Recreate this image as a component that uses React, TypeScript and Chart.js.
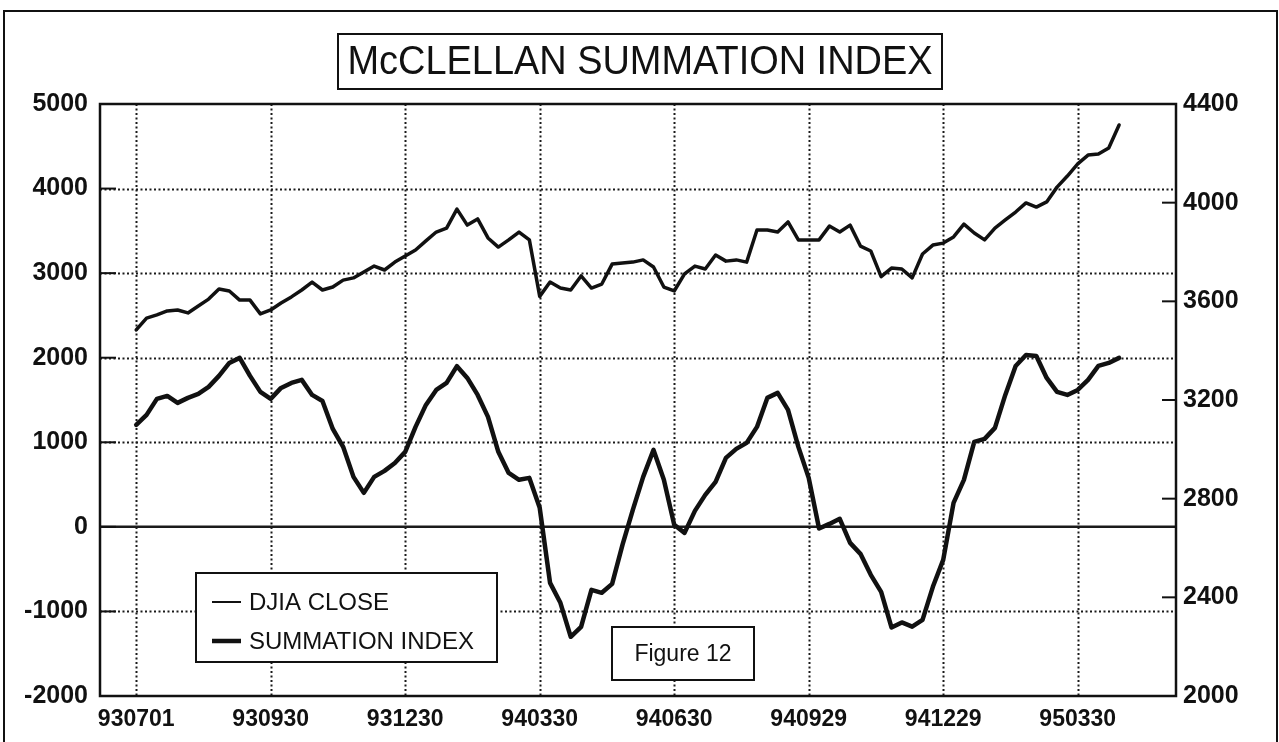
import React, { useEffect, useRef } from "react";
import { Chart, registerables } from "chart.js";

Chart.register(...registerables);

const TITLE = "McCLELLAN SUMMATION INDEX";
const FIGURE_NOTE = "Figure 12";

const quarterLabels = ["930701", "930930", "931230", "940330", "940630", "940929", "941229", "950330"];
const WEEKS_PER_QUARTER = 13;

const leftTicks = [-2000, -1000, 0, 1000, 2000, 3000, 4000, 5000];
const rightTicks = [2000, 2400, 2800, 3200, 3600, 4000, 4400];

// weekly readings, week 0 = 930701
const djiaClose = [
  3484, 3532, 3545, 3561, 3565, 3553, 3581, 3609, 3650, 3642,
  3605, 3605, 3549, 3565, 3593, 3618, 3646, 3678, 3646, 3658,
  3686, 3695, 3719, 3743, 3727, 3759, 3784, 3808, 3845, 3881,
  3897, 3974, 3909, 3934, 3857, 3820, 3849, 3881, 3849, 3620,
  3678, 3654, 3646, 3703, 3654, 3670, 3751, 3755, 3759, 3768,
  3739, 3658, 3642, 3711, 3743, 3731, 3788, 3763, 3768, 3759,
  3889, 3889, 3881, 3922, 3849, 3849, 3849, 3905, 3881, 3909,
  3824, 3804, 3700, 3735, 3731, 3695, 3792, 3828, 3836, 3861,
  3913, 3877, 3849, 3897, 3930, 3962, 3999, 3982, 4003, 4063,
  4108, 4157, 4193, 4197, 4222, 4315,
];

const summationIndex = [
  1206, 1324, 1513, 1548, 1466, 1525, 1572, 1655, 1785, 1938,
  1998, 1785, 1596, 1513, 1643, 1702, 1738, 1560, 1489, 1158,
  946, 591, 402, 591, 662, 756, 887, 1182, 1442, 1619,
  1702, 1900, 1761, 1560, 1300, 887, 638, 556, 579, 225,
  -662, -898, -1300, -1182, -745, -780, -674, -213, 201, 591,
  910, 556, 24, -71, 189, 378, 532, 816, 922, 993,
  1182, 1525, 1584, 1383, 946, 579, -20, 35, 95, -189,
  -319, -567, -768, -1190, -1130, -1180, -1100, -709, -390, 284,
  556, 1005, 1040, 1170, 1560, 1903, 2033, 2021, 1761, 1596,
  1560, 1619, 1738, 1903, 1938, 1998,
];

const FONT = "'Liberation Sans', Arial, Helvetica, sans-serif";
const INK = "#111";

const decor = {
  id: "decor",
  beforeDraw(chart: any) {
    const ctx = chart.ctx;
    ctx.save();
    ctx.fillStyle = "#fff";
    ctx.fillRect(0, 0, chart.width, chart.height);
    ctx.strokeStyle = INK;
    ctx.lineWidth = 2;
    ctx.beginPath();
    ctx.moveTo(4, chart.height);
    ctx.lineTo(4, 11);
    ctx.lineTo(chart.width - 2, 11);
    ctx.lineTo(chart.width - 2, chart.height);
    ctx.stroke();
    ctx.restore();
  },
  beforeDatasetsDraw(chart: any) {
    const ctx = chart.ctx;
    const { left, right, top, bottom } = chart.chartArea;
    const yL = chart.scales.yL;
    const xs = chart.scales.x;
    ctx.save();
    ctx.strokeStyle = "#1a1a1a";
    ctx.lineWidth = 2;
    ctx.setLineDash([2, 2.5]);
    leftTicks.forEach((v) => {
      if (v === 0 || v === yL.min || v === yL.max) return;
      const y = Math.round(yL.getPixelForValue(v)) + 0.5;
      ctx.beginPath();
      ctx.moveTo(left, y);
      ctx.lineTo(right, y);
      ctx.stroke();
    });
    quarterLabels.forEach((_, i) => {
      const x = Math.round(xs.getPixelForValue(i * WEEKS_PER_QUARTER)) + 0.5;
      ctx.beginPath();
      ctx.moveTo(x, top);
      ctx.lineTo(x, bottom);
      ctx.stroke();
    });
    ctx.setLineDash([]);
    ctx.lineWidth = 2.5;
    const y0 = yL.getPixelForValue(0);
    ctx.beginPath();
    ctx.moveTo(left, y0);
    ctx.lineTo(right, y0);
    ctx.stroke();
    ctx.restore();
  },
  afterDatasetsDraw(chart: any) {
    const ctx = chart.ctx;
    const { left, right, top, bottom } = chart.chartArea;
    const yL = chart.scales.yL;
    const yR = chart.scales.yR;
    ctx.save();
    ctx.strokeStyle = INK;
    ctx.lineWidth = 2.5;
    ctx.strokeRect(left, top, right - left, bottom - top);
    ctx.lineWidth = 2;
    leftTicks.forEach((v) => {
      const y = yL.getPixelForValue(v);
      ctx.beginPath();
      ctx.moveTo(left, y);
      ctx.lineTo(left + 16, y);
      ctx.stroke();
    });
    rightTicks.forEach((v) => {
      const y = yR.getPixelForValue(v);
      ctx.beginPath();
      ctx.moveTo(right - 14, y);
      ctx.lineTo(right, y);
      ctx.stroke();
    });

    // title box
    ctx.fillStyle = "#fff";
    ctx.fillRect(338, 34, 604, 55);
    ctx.lineWidth = 2;
    ctx.strokeRect(338, 34, 604, 55);
    ctx.fillStyle = INK;
    ctx.font = `40px ${FONT}`;
    ctx.textBaseline = "middle";
    ctx.textAlign = "center";
    const tw = ctx.measureText(TITLE).width;
    const target = 585;
    ctx.save();
    ctx.translate(640, 63);
    if (tw > target) ctx.scale(target / tw, 1);
    ctx.fillText(TITLE, 0, 0);
    ctx.restore();

    // legend box
    const lx = 196, ly = 573, lw = 301, lh = 89;
    ctx.fillStyle = "#fff";
    ctx.fillRect(lx, ly, lw, lh);
    ctx.lineWidth = 2;
    ctx.strokeStyle = INK;
    ctx.strokeRect(lx, ly, lw, lh);
    ctx.font = `24px ${FONT}`;
    ctx.textAlign = "left";
    ctx.textBaseline = "middle";
    const legendWidths = [2, 4.5];
    chart.data.datasets.forEach((ds: any, i: number) => {
      const y = ly + 29 + i * 39;
      ctx.lineWidth = legendWidths[i];
      ctx.beginPath();
      ctx.moveTo(lx + 16, y);
      ctx.lineTo(lx + 45, y);
      ctx.stroke();
      ctx.fillStyle = INK;
      ctx.fillText(ds.label, lx + 53, y + 1);
    });

    // figure note box
    const fx = 612, fy = 627, fw = 142, fh = 53;
    ctx.fillStyle = "#fff";
    ctx.fillRect(fx, fy, fw, fh);
    ctx.lineWidth = 2;
    ctx.strokeRect(fx, fy, fw, fh);
    ctx.fillStyle = INK;
    ctx.font = `23px ${FONT}`;
    ctx.textAlign = "center";
    ctx.fillText(FIGURE_NOTE, fx + fw / 2, fy + fh / 2 + 1);
    ctx.restore();
  },
};

export default function App() {
  const canvasRef = useRef<HTMLCanvasElement | null>(null);

  useEffect(() => {
    if (!canvasRef.current) return;
    const xFont = { family: FONT, size: 23, weight: "bold" as const };
    const yFont = { family: FONT, size: 25, weight: "bold" as const };
    const plain = (v: any) => String(v);
    const chart = new Chart(canvasRef.current, {
      type: "line",
      data: {
        datasets: [
          {
            label: "DJIA CLOSE",
            data: djiaClose.map((v, i) => ({ x: i, y: v })),
            yAxisID: "yR",
            borderColor: INK,
            borderWidth: 3.5,
            pointRadius: 0,
            tension: 0,
            borderJoinStyle: "round",
            borderCapStyle: "round",
          },
          {
            label: "SUMMATION INDEX",
            data: summationIndex.map((v, i) => ({ x: i, y: v })),
            yAxisID: "yL",
            borderColor: INK,
            borderWidth: 4.5,
            pointRadius: 0,
            tension: 0,
            borderJoinStyle: "round",
            borderCapStyle: "round",
          },
        ],
      },
      options: {
        animation: false,
        responsive: false,
        maintainAspectRatio: false,
        layout: { padding: { top: 104, left: 0, right: 0, bottom: 0 } },
        plugins: {
          legend: { display: false },
          title: { display: false },
          tooltip: { enabled: false },
        },
        scales: {
          x: {
            type: "linear",
            min: -3.5,
            max: 100.5,
            grid: { display: false, drawTicks: false },
            border: { display: false },
            afterBuildTicks: (scale: any) => {
              scale.ticks = quarterLabels.map((_, i) => ({ value: i * WEEKS_PER_QUARTER }));
            },
            afterFit: (scale: any) => {
              scale.height = 46;
            },
            ticks: {
              autoSkip: false,
              maxRotation: 0,
              padding: 10,
              color: INK,
              font: xFont,
              callback: (v: any) => quarterLabels[Math.round(Number(v) / WEEKS_PER_QUARTER)] ?? "",
            },
          },
          yL: {
            type: "linear",
            position: "left",
            min: -2000,
            max: 5000,
            grid: { display: false, drawTicks: false },
            border: { display: false },
            afterBuildTicks: (scale: any) => {
              scale.ticks = leftTicks.map((v) => ({ value: v }));
            },
            afterFit: (scale: any) => {
              scale.width = 100;
            },
            ticks: { padding: 12, color: INK, font: yFont, callback: plain },
          },
          yR: {
            type: "linear",
            position: "right",
            min: 2000,
            max: 4400,
            grid: { display: false, drawTicks: false },
            border: { display: false },
            afterBuildTicks: (scale: any) => {
              scale.ticks = rightTicks.map((v) => ({ value: v }));
            },
            afterFit: (scale: any) => {
              scale.width = 103;
            },
            ticks: { padding: 7, color: INK, font: yFont, callback: plain },
          },
        },
      },
      plugins: [decor],
    });
    return () => chart.destroy();
  }, []);

  return (
    <div style={{ position: "absolute", left: 0, top: 0, width: 1279, height: 742, background: "#fff" }}>
      <canvas ref={canvasRef} width={1279} height={742} style={{ display: "block", width: 1279, height: 742 }} />
    </div>
  );
}
